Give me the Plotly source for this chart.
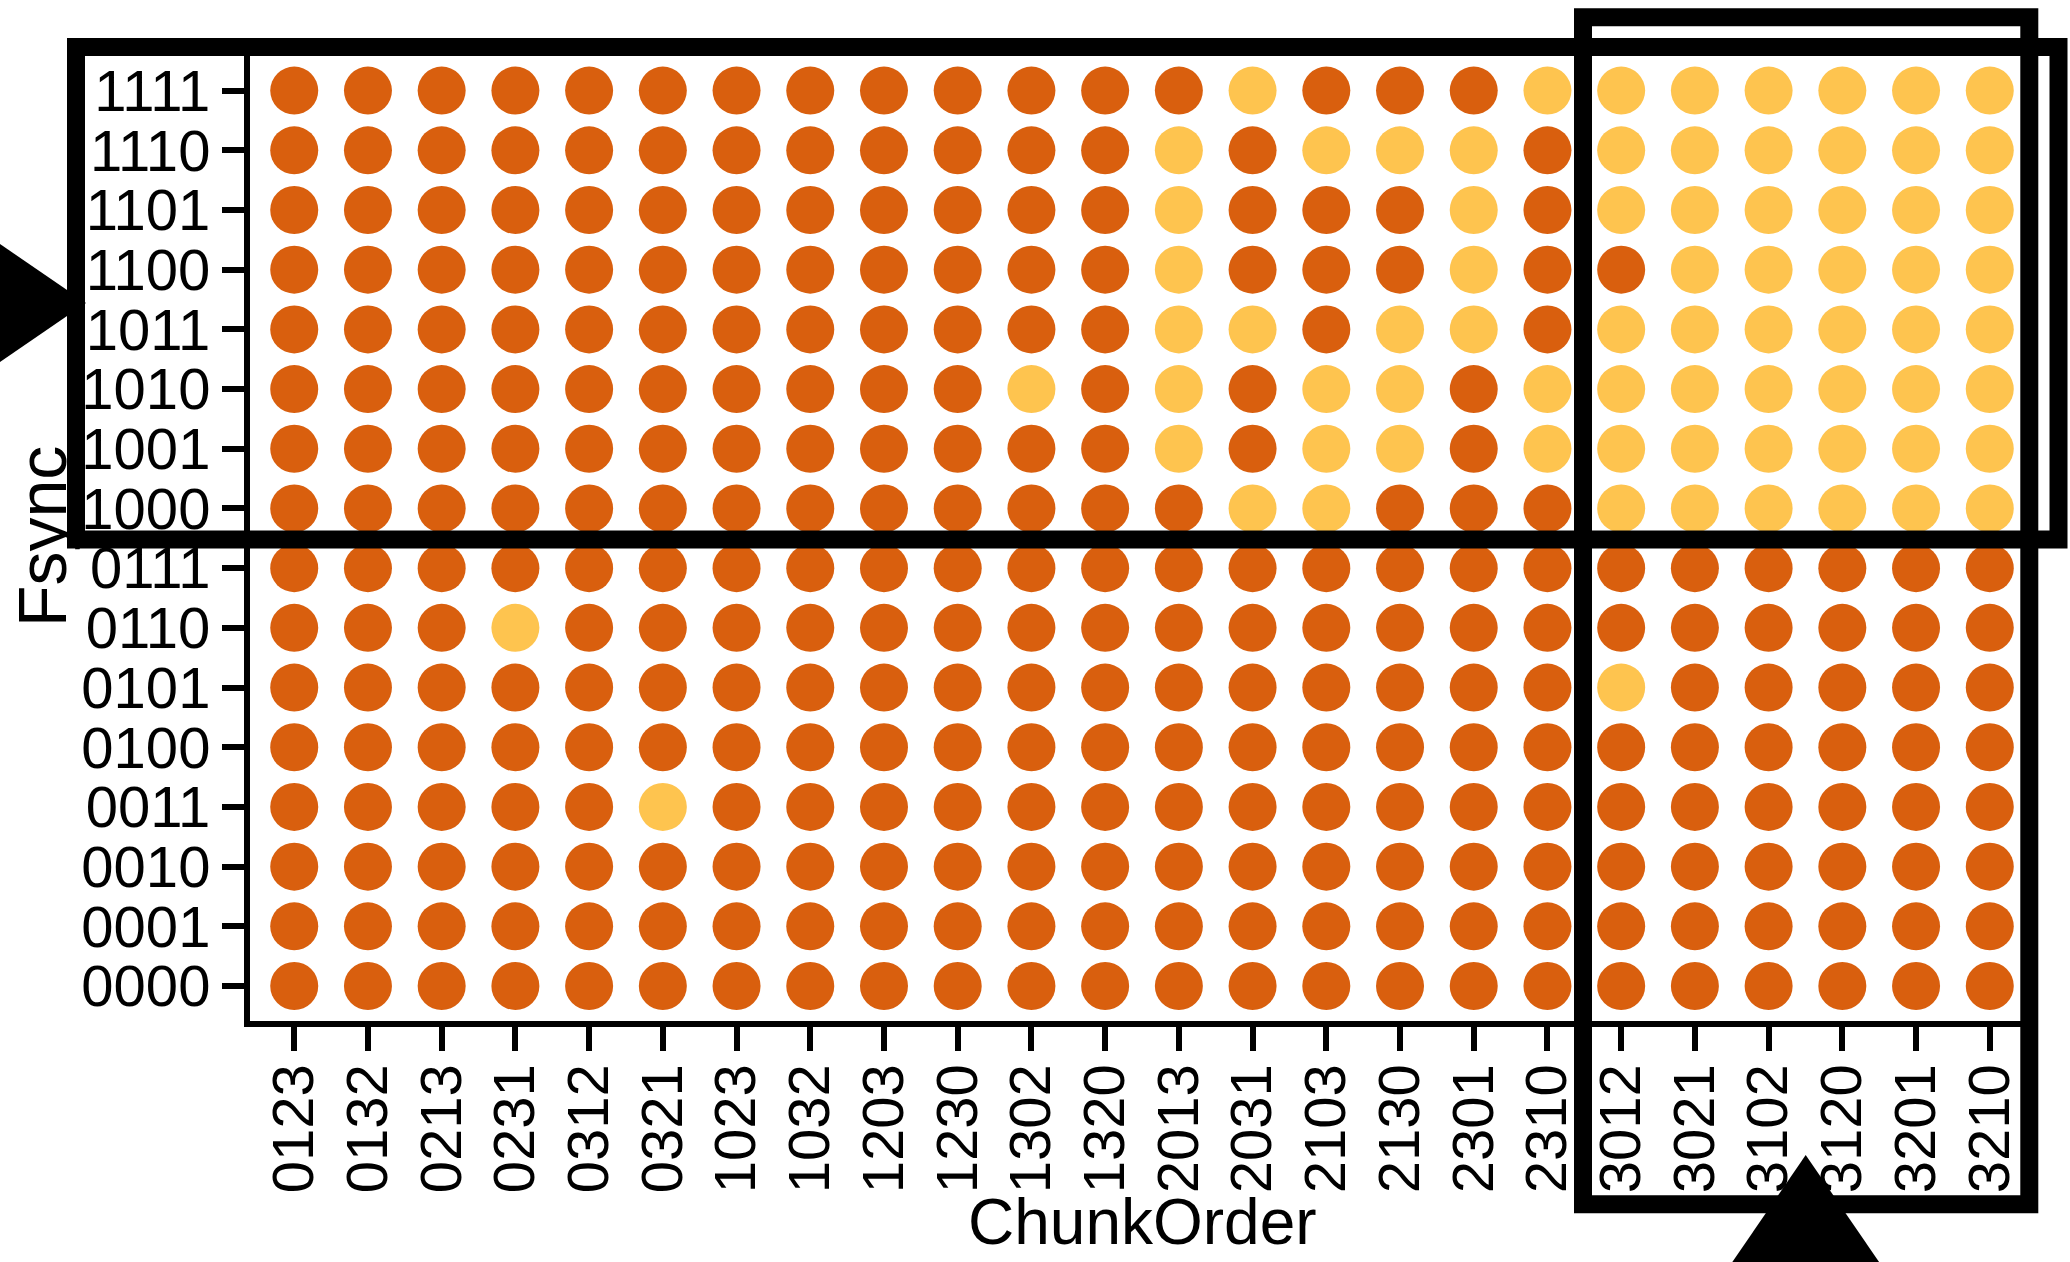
import plotly.graph_objects as go

# ---- data -------------------------------------------------------------
chunk_orders = ["0123", "0132", "0213", "0231", "0312", "0321",
                "1023", "1032", "1203", "1230", "1302", "1320",
                "2013", "2031", "2103", "2130", "2301", "2310",
                "3012", "3021", "3102", "3120", "3201", "3210"]

# Fsync patterns from bottom (0000) to top (1111)
fsync_patterns = [format(i, "04b") for i in range(16)]

# Outcome per fsync pattern, one character per chunk order:
# "D" = dark marker, "L" = light marker
outcome_rows = {
    "1111": "DDDDDDDDDDDD" + "DLDDDL" + "LLLLLL",
    "1110": "DDDDDDDDDDDD" + "LDLLLD" + "LLLLLL",
    "1101": "DDDDDDDDDDDD" + "LDDDLD" + "LLLLLL",
    "1100": "DDDDDDDDDDDD" + "LDDDLD" + "DLLLLL",
    "1011": "DDDDDDDDDDDD" + "LLDLLD" + "LLLLLL",
    "1010": "DDDDDDDDDDLD" + "LDLLDL" + "LLLLLL",
    "1001": "DDDDDDDDDDDD" + "LDLLDL" + "LLLLLL",
    "1000": "DDDDDDDDDDDD" + "DLLDDD" + "LLLLLL",
    "0111": "DDDDDDDDDDDD" + "DDDDDD" + "DDDDDD",
    "0110": "DDDLDDDDDDDD" + "DDDDDD" + "DDDDDD",
    "0101": "DDDDDDDDDDDD" + "DDDDDD" + "LDDDDD",
    "0100": "DDDDDDDDDDDD" + "DDDDDD" + "DDDDDD",
    "0011": "DDDDDLDDDDDD" + "DDDDDD" + "DDDDDD",
    "0010": "DDDDDDDDDDDD" + "DDDDDD" + "DDDDDD",
    "0001": "DDDDDDDDDDDD" + "DDDDDD" + "DDDDDD",
    "0000": "DDDDDDDDDDDD" + "DDDDDD" + "DDDDDD",
}

DARK = "#D95F0E"
LIGHT = "#FEC44F"

# ---- page geometry (pixels) ------------------------------------------
W, H = 2070, 1262
ML, MR, MT, MB = 250, 36, 56, 241
PW, PH = W - ML - MR, H - MT - MB


def px(x):
    return (x - ML) / PW


def py(y):
    return (H - MB - y) / PH


# ---- markers ----------------------------------------------------------
xs, ys, cs = [], [], []
for yi, pat in enumerate(fsync_patterns):
    row = outcome_rows[pat]
    for xi, code in enumerate(row):
        xs.append(xi)
        ys.append(yi)
        cs.append(LIGHT if code == "L" else DARK)

fig = go.Figure(go.Scatter(
    x=xs, y=ys, mode="markers",
    marker=dict(size=48, color=cs, line=dict(width=0)),
    hoverinfo="skip", showlegend=False,
))

FONT = "Liberation Sans, Arial, Helvetica, sans-serif"

fig.update_xaxes(
    range=[-0.6, 23.6], tickmode="array",
    tickvals=list(range(len(chunk_orders))), ticktext=chunk_orders,
    tickangle=-90, ticks="outside", ticklen=24, tickwidth=6, tickcolor="black",
    ticklabelstandoff=-10,
    showline=True, linewidth=6, linecolor="black",
    showgrid=False, zeroline=False,
    tickfont=dict(family=FONT, size=58, color="black"),
)
fig.update_yaxes(
    range=[-0.586, 15.58], tickmode="array",
    tickvals=list(range(len(fsync_patterns))), ticktext=fsync_patterns,
    ticks="outside", ticklen=22, tickwidth=6, tickcolor="black",
    showline=True, linewidth=6, linecolor="black",
    showgrid=False, zeroline=False,
    tickfont=dict(family=FONT, size=58, color="black"),
)

# ---- highlight frames and pointers -------------------------------------
shapes = []
# Horizontal frame around the upper fsync block
shapes.append(dict(type="rect", xref="paper", yref="paper",
                   x0=px(76), x1=px(2058.5), y0=py(539.5), y1=py(47),
                   line=dict(color="black", width=18), layer="above"))
# Vertical frame around the 3xxx chunk orders
shapes.append(dict(type="rect", xref="paper", yref="paper",
                   x0=px(1583), x1=px(2029.3), y0=py(1204.3), y1=py(17.3),
                   line=dict(color="black", width=18), layer="above"))


def tri_path(pts):
    return "M " + " L ".join(f"{px(a):.5f},{py(b):.5f}" for a, b in pts) + " Z"


# Arrow pointing right at the upper block
shapes.append(dict(type="path", xref="paper", yref="paper",
                   path=tri_path([(86, 303), (-54, 207), (-54, 399)]),
                   fillcolor="black", line=dict(width=0), layer="above"))
# Arrow pointing up at the 3xxx block
shapes.append(dict(type="path", xref="paper", yref="paper",
                   path=tri_path([(1805.7, 1155), (1709.7, 1295), (1901.7, 1295)]),
                   fillcolor="black", line=dict(width=0), layer="above"))

annotations = [
    dict(text="ChunkOrder", xref="paper", yref="paper",
         x=px(1142), y=py(1222), xanchor="center", yanchor="middle",
         showarrow=False, font=dict(family=FONT, size=64, color="black")),
    dict(text="Fsync", xref="paper", yref="paper",
         x=px(42), y=py(537), xanchor="center", yanchor="middle",
         textangle=-90, showarrow=False,
         font=dict(family=FONT, size=68, color="black")),
]

fig.update_layout(
    width=W, height=H,
    margin=dict(l=ML, r=MR, t=MT, b=MB, pad=0),
    paper_bgcolor="white", plot_bgcolor="white",
    shapes=shapes, annotations=annotations,
    showlegend=False,
)

fig.write_html("out.html")
